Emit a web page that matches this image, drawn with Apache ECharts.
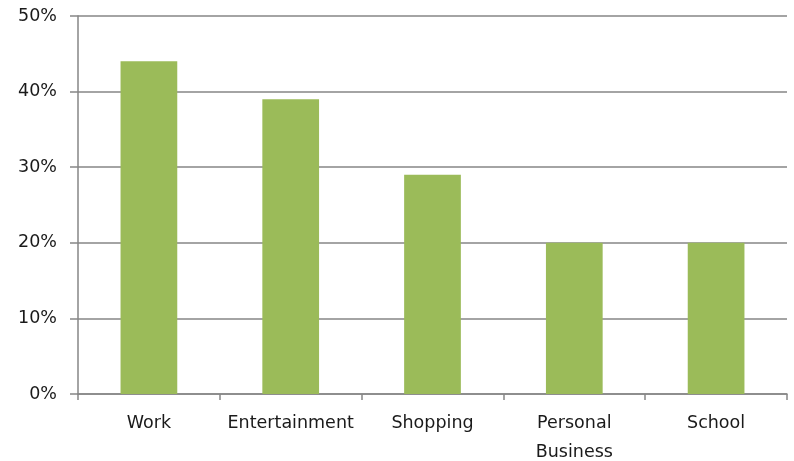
<!DOCTYPE html>
<html><head><meta charset="utf-8">
<script src="https://cdn.jsdelivr.net/npm/echarts@6/dist/echarts.min.js"></script>
<style>html,body{margin:0;padding:0;background:#fff}#c{width:794px;height:461px}</style>
</head><body><div id="c"></div>
<script>
const categories = ['Work', 'Entertainment', 'Shopping', 'Personal\nBusiness', 'School'];
const values = [44, 39, 29, 20, 20];
const yTicks = [0, 10, 20, 30, 40, 50];

const chart = echarts.init(document.getElementById('c'), null, {renderer: 'canvas'});
chart.setOption({
  animation: false,
  backgroundColor: '#ffffff',
  grid: {left: 78, right: 7, top: 16, bottom: 67, containLabel: false, outerBoundsMode: 'none'},
  xAxis: {
    type: 'category',
    data: categories,
    boundaryGap: true,
    axisLine: {lineStyle: {color: '#868686', width: 1.5}},
    axisTick: {show: true, length: 6, lineStyle: {color: '#868686', width: 1.5}},
    axisLabel: {color: '#1a1a1a', fontFamily: 'DejaVu Sans', fontSize: 17.5, margin: 15, lineHeight: 29, interval: 0}
  },
  yAxis: {
    type: 'value',
    min: yTicks[0], max: yTicks[yTicks.length - 1], interval: 10,
    axisLine: {show: true, lineStyle: {color: '#868686', width: 1.5}},
    axisTick: {show: true, length: 8, lineStyle: {color: '#868686', width: 1.5}},
    splitLine: {lineStyle: {color: '#868686', width: 1.5}},
    axisLabel: {color: '#1a1a1a', fontFamily: 'DejaVu Sans', fontSize: 17.5, margin: 21, formatter: v => v + '%'}
  },
  series: [{
    type: 'bar',
    data: values,
    barWidth: '40%',
    itemStyle: {color: '#9BBB59'}
  }]
});
</script></body></html>
